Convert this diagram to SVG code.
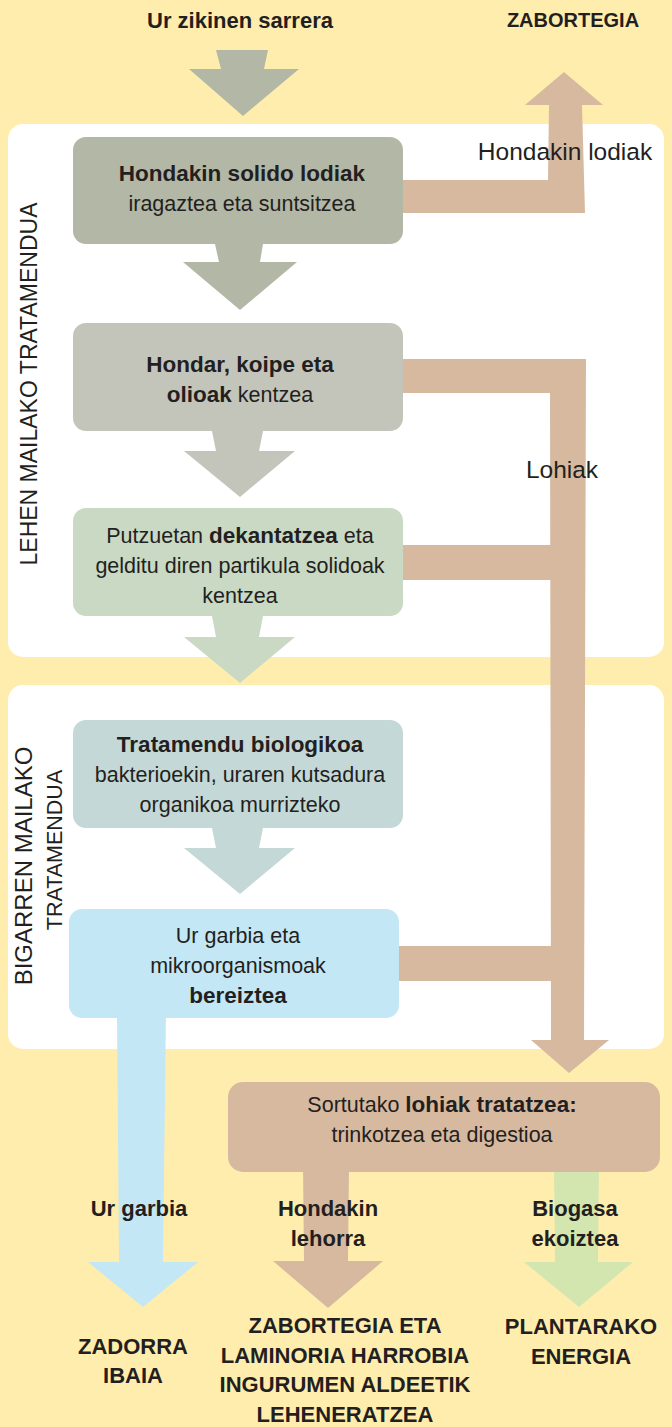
<svg xmlns="http://www.w3.org/2000/svg" width="672" height="1427" viewBox="0 0 672 1427">
<style>
text{font-family:"Liberation Sans",Arial,sans-serif;fill:#231F20;}
.b{font-size:21.5px;text-anchor:middle;}
.bt{font-weight:bold;font-size:22.5px;}
.lab{font-size:24.5px;text-anchor:middle;}
.bl{font-size:22px;font-weight:bold;text-anchor:middle;}
.v{font-size:23px;text-anchor:middle;}
.tan{fill:#D7B9A0;}
</style>
<rect x="0" y="0" width="672" height="1427" fill="#FFEDAD"/>
<g id="panels">
<rect id="panel1" x="8" y="124" width="656" height="533" rx="15" fill="#FFFFFF"/>
<rect id="panel2" x="8" y="685" width="656" height="364" rx="15" fill="#FFFFFF"/>
</g>
<g id="connectors">
<polygon points="216,50 268,50 264,69 299,69 243,116 189,69 221,69" fill="#B3B7A5"/>
<polygon points="215,244 263,244 260,262 297,262 240,310 183,262 219,262" fill="#B3B7A5"/>
<polygon points="212,431 263,431 259,451 295,451 240,497 184,451 216,451" fill="#C4C5BA"/>
<polygon points="212,616 263,616 259,637 295,637 240,683 184,637 216,637" fill="#C9D9C4"/>
<polygon points="212,828 263,828 259,848 295,848 240,894 184,848 216,848" fill="#C4D9D7"/>
<path class="tan" d="M403,180 L548,180 L549,105 L525,105 L564,72 L603,105 L582,105 L585,213 L403,213 Z"/>
<path class="tan" d="M403,359 L586,359 L584,1040 L609,1040 L569,1073 L531,1040 L551,1040 L550,393 L403,393 Z"/>
<rect class="tan" x="403" y="545" width="148" height="35"/>
<rect class="tan" x="399" y="946" width="152" height="35"/>
<polygon points="117,1010 166,1010 163,1262 198,1262 143,1307 88,1262 119,1262" fill="#C4E7F6"/>
<polygon class="tan" points="303,1165 349,1165 348,1261 383,1261 328,1308 273,1261 304,1261"/>
<polygon points="554,1165 599,1165 598,1262 633,1262 579,1307 524,1262 555,1262" fill="#D4E6B0"/>
</g>
<g id="n1">
<rect x="73" y="137" width="330" height="107" rx="13" fill="#B3B7A5"/>
<text class="b" x="242" y="181"><tspan class="bt">Hondakin solido lodiak</tspan></text>
<text class="b" x="242" y="211">iragaztea eta suntsitzea</text>
</g>
<g id="n2">
<rect x="73" y="323" width="330" height="108" rx="13" fill="#C4C5BA"/>
<text class="b" x="240" y="372"><tspan class="bt">Hondar, koipe eta</tspan></text>
<text class="b" x="240" y="402"><tspan class="bt">olioak</tspan> kentzea</text>
</g>
<g id="n3">
<rect x="73" y="508" width="330" height="108" rx="13" fill="#C9D9C4"/>
<text class="b" x="240" y="543">Putzuetan <tspan class="bt">dekantatzea</tspan> eta</text>
<text class="b" x="240" y="573">gelditu diren partikula solidoak</text>
<text class="b" x="240" y="603">kentzea</text>
</g>
<g id="n4">
<rect x="73" y="720" width="330" height="108" rx="13" fill="#C4D9D7"/>
<text class="b" x="240" y="752"><tspan class="bt">Tratamendu biologikoa</tspan></text>
<text class="b" x="240" y="782">bakterioekin, uraren kutsadura</text>
<text class="b" x="240" y="812">organikoa murrizteko</text>
</g>
<g id="n5">
<rect x="69" y="909" width="330" height="109" rx="13" fill="#C4E7F6"/>
<text class="b" x="238" y="943">Ur garbia eta</text>
<text class="b" x="238" y="973">mikroorganismoak</text>
<text class="b" x="238" y="1003"><tspan class="bt">bereiztea</tspan></text>
</g>
<g id="n6">
<rect x="228" y="1082" width="432" height="90" rx="15" fill="#D7B9A0"/>
<text class="b" x="442" y="1112">Sortutako <tspan class="bt">lohiak tratatzea:</tspan></text>
<text class="b" x="442" y="1142">trinkotzea eta digestioa</text>
</g>
<g id="labels">
<text class="bl" x="240" y="28">Ur zikinen sarrera</text>
<text class="bl" x="573" y="27" style="font-size:20px">ZABORTEGIA</text>
<text class="lab" x="565" y="160">Hondakin lodiak</text>
<text class="lab" x="562" y="478">Lohiak</text>
<text class="v" transform="translate(37,384) rotate(-90)">LEHEN MAILAKO TRATAMENDUA</text>
<text class="v" transform="translate(32,866) rotate(-90)" style="font-size:24px">BIGARREN MAILAKO</text>
<text class="v" transform="translate(62,850) rotate(-90)" style="font-size:21.5px">TRATAMENDUA</text>
<text class="bl" x="139" y="1216">Ur garbia</text>
<text class="bl" x="328" y="1216">Hondakin</text>
<text class="bl" x="328" y="1246">lehorra</text>
<text class="bl" x="575" y="1216">Biogasa</text>
<text class="bl" x="575" y="1246">ekoiztea</text>
<text class="bl" x="133" y="1354">ZADORRA</text>
<text class="bl" x="133" y="1383">IBAIA</text>
<text class="bl" x="345" y="1333">ZABORTEGIA ETA</text>
<text class="bl" x="345" y="1363">LAMINORIA HARROBIA</text>
<text class="bl" x="345" y="1392">INGURUMEN ALDEETIK</text>
<text class="bl" x="345" y="1422">LEHENERATZEA</text>
<text class="bl" x="581" y="1334">PLANTARAKO</text>
<text class="bl" x="581" y="1364">ENERGIA</text>
</g>
</svg>
